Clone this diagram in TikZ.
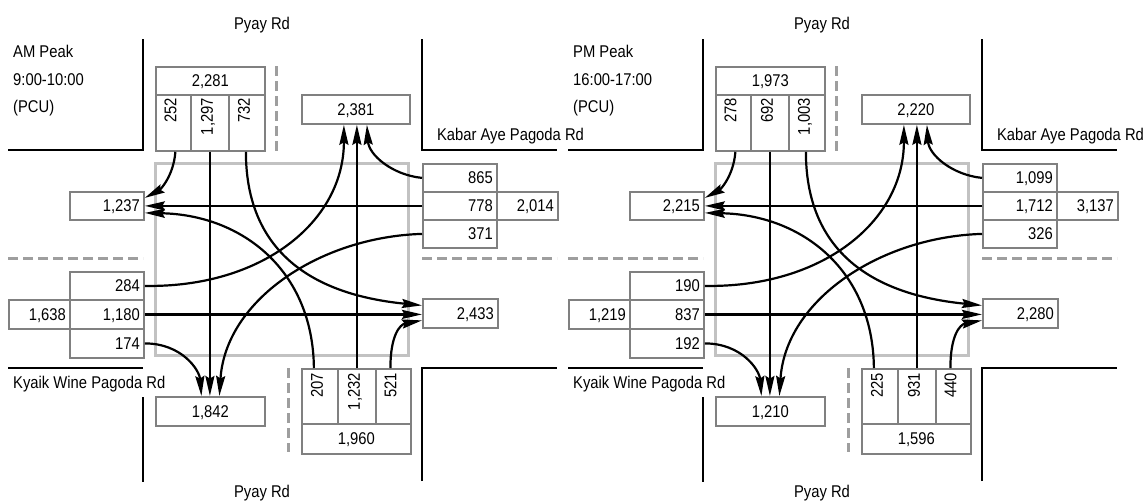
\documentclass[tikz,border=0pt]{standalone}
\usepackage{fontspec}
\setmainfont{Liberation Sans}[FakeStretch=0.87]
\usetikzlibrary{arrows.meta}
\definecolor{boxgray}{gray}{0.5}
\definecolor{isecgray}{gray}{0.76}
\definecolor{dashgray}{gray}{0.62}
\tikzset{
  road/.style={line width=2.4pt},
  lanedash/.style={draw=dashgray, line width=3pt, dash pattern=on 10pt off 5pt},
  isec/.style={draw=isecgray, line width=3pt},
  cell/.style={draw=boxgray, line width=1.8pt, fill=white, anchor=north west, inner xsep=4pt, inner ysep=0pt, text height=12pt, text depth=0pt},
  rcell/.style={cell, text width=#1, align=right},
  vlbl/.style={rotate=90, anchor=base east, inner sep=0pt},
  lbl/.style={inner sep=0pt},
  flow/.style={line width=2.2pt, -{Stealth[length=20pt,width=9pt,inset=2.5pt]}},
}
\newcommand\peakdiagram{%
  \draw[isec] (155,163) rectangle (408,355);
  \draw[road] (8,150) -- (143,150) -- (143,39);
  \draw[road] (422,39) -- (422,150) -- (557,150);
  \draw[road] (8,368) -- (143,368);
  \draw[road] (143,397) -- (143,482);
  \draw[road] (422,481) -- (422,368) -- (557,368);
  \draw[lanedash] (276,66) -- (276,151);
  \draw[lanedash] (8,258) -- (143,258);
  \draw[lanedash] (422,258) -- (557,258);
  \draw[lanedash] (288,368) -- (288,452);
  \node[lbl, anchor=base] (pyayN) at (262,29) {Pyay Rd};
  \node[lbl, anchor=base] (pyayS) at (262,497) {Pyay Rd};
  \node[lbl, anchor=base west] (peak) at (13,57) {\dgPeak};
  \node[lbl, anchor=base west] (time) at (13,85) {\dgTime};
  \node[lbl, anchor=base west] (pcu) at (13,112) {(PCU)};
  \node[lbl, anchor=base] (kabar) at (510.5,140) {Kabar Aye Pagoda Rd};
  \node[lbl, anchor=base west] (kyaik) at (13,388) {Kyaik Wine Pagoda Rd};
  % top approach
  \node[cell, minimum width=109pt, minimum height=28pt] (Ttot) at (155,66) {\dgTtot};
  \node[cell, minimum width=35pt, minimum height=56pt] (T1) at (155,94) {};
  \node[cell, minimum width=38pt, minimum height=56pt] (T2) at (190,94) {};
  \node[cell, minimum width=36pt, minimum height=56pt] (T3) at (228,94) {};
  \node[vlbl] (T1l) at ([xshift=3pt,yshift=-4pt]T1.north) {\dgTa};
  \node[vlbl] (T2l) at ([xshift=3pt,yshift=-4pt]T2.north) {\dgTb};
  \node[vlbl] (T3l) at ([xshift=3pt,yshift=-4pt]T3.north) {\dgTc};
  % exits
  \node[cell, minimum width=108pt, minimum height=29pt] (X1) at (301,94) {\dgXa};
  \node[rcell=66pt, minimum height=28pt] (X2) at (69,191) {\dgXb};
  \node[rcell=67pt, minimum height=29pt] (X3) at (422,298) {\dgXc};
  \node[cell, minimum width=109pt, minimum height=29pt] (X4) at (155,396) {\dgXd};
  % right approach
  \node[rcell=66pt, minimum height=28pt] (R1) at (422,163) {\dgRa};
  \node[rcell=66pt, minimum height=28pt] (R2) at (422,191) {\dgRb};
  \node[rcell=66pt, minimum height=28pt] (R3) at (422,219) {\dgRc};
  \node[rcell=53pt, minimum height=28pt] (Rtot) at (496,191) {\dgRtot};
  % left approach
  \node[rcell=66pt, minimum height=28pt] (L1) at (69,271) {\dgLa};
  \node[rcell=66pt, minimum height=29pt] (L2) at (69,299) {\dgLb};
  \node[rcell=66pt, minimum height=29pt] (L3) at (69,328) {\dgLc};
  \node[rcell=53pt, minimum height=29pt] (Ltot) at (8,299) {\dgLtot};
  % bottom approach
  \node[cell, minimum width=36pt, minimum height=55pt] (B1) at (301,368) {};
  \node[cell, minimum width=38pt, minimum height=55pt] (B2) at (337,368) {};
  \node[cell, minimum width=35pt, minimum height=55pt] (B3) at (375,368) {};
  \node[cell, minimum width=109pt, minimum height=30pt] (Btot) at (301,423) {\dgBtot};
  \node[vlbl] (B1l) at ([xshift=3pt,yshift=-5pt]B1.north) {\dgBa};
  \node[vlbl] (B2l) at ([xshift=3pt,yshift=-5pt]B2.north) {\dgBb};
  \node[vlbl] (B3l) at ([xshift=3pt,yshift=-5pt]B3.north) {\dgBc};
  % flows
  \draw[flow] ([xshift=2pt]T1.south) .. controls +(-2,25) and +(15,-8) .. ([yshift=8pt]X2.east);
  \draw[flow] (T2.south) -- (T2.south |- X4.north);
  \draw[flow] ([xshift=-1pt]T3.south) .. controls +(0,90) and +(-122,-12) .. ([yshift=8pt]X3.west);
  \draw[flow] (R1.west) .. controls +(-30,-3) and +(2,30) .. ([xshift=11pt]X1.south);
  \draw[flow] (R2.west) -- (R2.west -| X2.east);
  \draw[flow] (R3.west) .. controls +(-102,3) and +(6,-96) .. ([xshift=9pt]X4.north);
  \draw[flow] (L1.east) .. controls +(117,2) and +(0,97) .. ([xshift=-12pt]X1.south);
  \draw[flow] (L2.east) -- (L2.east -| X3.west);
  \draw[flow] (L3.east) .. controls +(37,0) and +(-2,-26) .. ([xshift=-9pt]X4.north);
  \draw[flow] ([xshift=-6pt]B1.north) .. controls +(-1,-98) and +(97,2) .. ([yshift=-7pt]X2.east);
  \draw[flow] (B2.north) -- (B2.north |- X1.south);
  \draw[flow] ([xshift=-3pt]B3.north) .. controls +(0,-33) and +(-22,4) .. ([yshift=-7pt]X3.west);
}
\begin{document}
\begin{tikzpicture}[x=1pt, y=-1pt, font=\fontsize{17}{20}\selectfont]
\useasboundingbox (0,0) rectangle (1148,501);
\def\dgPeak{AM Peak}\def\dgTime{9:00-10:00}
\def\dgTtot{2,281}\def\dgTa{252}\def\dgTb{1,297}\def\dgTc{732}
\def\dgXa{2,381}\def\dgXb{1,237}\def\dgXc{2,433}\def\dgXd{1,842}
\def\dgRa{865}\def\dgRb{778}\def\dgRc{371}\def\dgRtot{2,014}
\def\dgLa{284}\def\dgLb{1,180}\def\dgLc{174}\def\dgLtot{1,638}
\def\dgBa{207}\def\dgBb{1,232}\def\dgBc{521}\def\dgBtot{1,960}
\begin{scope}[name prefix=am-]
\peakdiagram
\end{scope}
\def\dgPeak{PM Peak}\def\dgTime{16:00-17:00}
\def\dgTtot{1,973}\def\dgTa{278}\def\dgTb{692}\def\dgTc{1,003}
\def\dgXa{2,220}\def\dgXb{2,215}\def\dgXc{2,280}\def\dgXd{1,210}
\def\dgRa{1,099}\def\dgRb{1,712}\def\dgRc{326}\def\dgRtot{3,137}
\def\dgLa{190}\def\dgLb{837}\def\dgLc{192}\def\dgLtot{1,219}
\def\dgBa{225}\def\dgBb{931}\def\dgBc{440}\def\dgBtot{1,596}
\begin{scope}[name prefix=pm-, xshift=560pt]
\peakdiagram
\end{scope}
\end{tikzpicture}
\end{document}
